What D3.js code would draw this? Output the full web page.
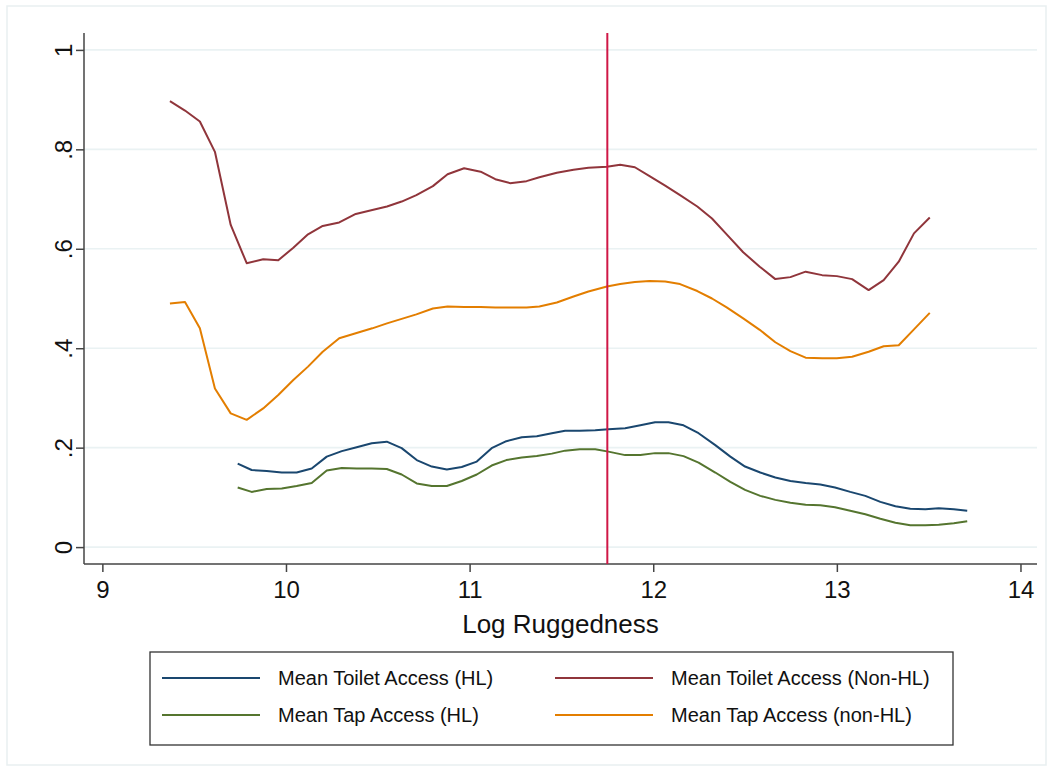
<!DOCTYPE html>
<html>
<head>
<meta charset="utf-8">
<script src="https://cdn.jsdelivr.net/npm/d3@7"></script>
<style>
  body { margin: 0; background: #fff; }
  svg { display: block; font-family: 'Liberation Sans', Arial, Helvetica, sans-serif; }
</style>
</head>
<body>
<div id="chart"></div>
<script>
// x positions of the smoothed points (HL and non-HL curves are sampled differently)
const xHL = [9.737, 9.813, 9.895, 9.977, 10.058, 10.14, 10.222, 10.304, 10.385, 10.467,
  10.549, 10.63, 10.712, 10.794, 10.876, 10.957, 11.039, 11.12, 11.20, 11.284,
  11.366, 11.448, 11.52, 11.60, 11.684, 11.756, 11.847, 11.93, 12.01, 12.083,
  12.165, 12.247, 12.338, 12.42, 12.50, 12.583, 12.665, 12.747, 12.83, 12.91,
  12.99, 13.073, 13.155, 13.237, 13.319, 13.40, 13.482, 13.555, 13.637, 13.71]
const xNonHL = [9.368, 9.45, 9.531, 9.613, 9.699, 9.786, 9.876, 9.958, 10.04, 10.12,
  10.20, 10.29, 10.38, 10.47, 10.55, 10.63, 10.71, 10.80, 10.88, 10.97,
  11.06, 11.14, 11.22, 11.31, 11.38, 11.475, 11.566, 11.647, 11.748, 11.82,
  11.90, 11.98, 12.065, 12.146, 12.24, 12.32, 12.40, 12.49, 12.58, 12.665,
  12.747, 12.83, 12.92, 13.0, 13.083, 13.173, 13.255, 13.337, 13.42, 13.506]

const toiletHL = [.168, .155, .153, .150, .150, .158, .182, .193, .201, .209,
  .212, .199, .175, .162, .156, .161, .172, .199, .213, .221,
  .223, .229, .234, .234, .235, .237, .239, .245, .251, .251,
  .245, .229, .205, .182, .162, .150, .140, .133, .129, .126,
  .120, .111, .103, .091, .082, .077, .076, .078, .076, .073]
const tapHL = [.120, .111, .117, .118, .123, .129, .154, .159, .158, .158,
  .157, .146, .128, .123, .123, .133, .146, .164, .175, .180,
  .183, .188, .194, .197, .197, .192, .185, .185, .189, .189,
  .183, .170, .150, .131, .115, .103, .095, .089, .085, .084,
  .080, .073, .066, .057, .049, .044, .044, .045, .048, .052]
const toiletNonHL = [.897, .878, .856, .795, .648, .571, .579, .577, .602, .629,
  .646, .653, .670, .678, .685, .695, .708, .726, .750, .762,
  .755, .740, .732, .736, .744, .753, .759, .763, .765, .769,
  .764, .746, .727, .708, .685, .661, .629, .593, .564, .539,
  .543, .554, .547, .545, .539, .517, .537, .574, .631, .663]
const tapNonHL = [.490, .493, .440, .319, .269, .256, .279, .306, .336, .363,
  .393, .420, .430, .440, .450, .459, .468, .480, .484, .483,
  .483, .482, .482, .482, .484, .492, .504, .514, .524, .529,
  .533, .535, .534, .529, .515, .500, .482, .460, .437, .412,
  .394, .381, .380, .380, .383, .393, .404, .406, .438, .471]

const cutoff = 11.75
const xTicks = [9, 10, 11, 12, 13, 14]
const yTicks = [0, .2, .4, .6, .8, 1]
const yTickLabels = ['0', '.2', '.4', '.6', '.8', '1']

const series = [
  { name: 'Mean Toilet Access (HL)', xs: xHL, ys: toiletHL, color: '#1a476f' },
  { name: 'Mean Toilet Access (Non-HL)', xs: xNonHL, ys: toiletNonHL, color: '#90353b' },
  { name: 'Mean Tap Access (HL)', xs: xHL, ys: tapHL, color: '#55752f' },
  { name: 'Mean Tap Access (non-HL)', xs: xNonHL, ys: tapNonHL, color: '#e37e00' }
]

const width = 1053, height = 771
const plot = { left: 84, right: 1037, top: 33, bottom: 564 }

const svg = d3.select('#chart').append('svg')
  .attr('width', width)
  .attr('height', height)

// faint outer frame
svg.append('rect')
  .attr('x', 7).attr('y', 6)
  .attr('width', 1039).attr('height', 759)
  .attr('fill', '#fff')
  .attr('stroke', '#e9eff1')
  .attr('stroke-width', 1.5)

const x = d3.scaleLinear().domain([8.9, 14.09]).range([plot.left, plot.right])
const y = d3.scaleLinear().domain([-0.034, 1.034]).range([plot.bottom, plot.top])

// grid
svg.append('g').selectAll('line')
  .data(yTicks).enter()
  .append('line')
    .attr('x1', plot.left).attr('x2', plot.right)
    .attr('y1', d => y(d)).attr('y2', d => y(d))
    .attr('stroke', '#eaf2f3')
    .attr('stroke-width', 1.6)

// y axis, labels rotated like stata
const yAxis = svg.append('g')
  .attr('transform', `translate(${plot.left},0)`)
  .call(d3.axisLeft(y).tickValues(yTicks).tickSize(8).tickFormat((d, i) => yTickLabels[i]))
yAxis.select('.domain').attr('d', `M0,${plot.top}V${plot.bottom}`).attr('stroke', '#444').attr('stroke-width', 1.5)
yAxis.selectAll('.tick line').attr('stroke', '#444').attr('stroke-width', 1.5)
yAxis.selectAll('.tick text')
  .attr('font-size', 24)
  .attr('fill', '#111')
  .attr('x', 0).attr('dy', 0)
  .attr('text-anchor', 'middle')
  .attr('transform', 'translate(-12,0) rotate(-90)')

// x axis
const xAxis = svg.append('g')
  .attr('transform', `translate(0,${plot.bottom})`)
  .call(d3.axisBottom(x).tickValues(xTicks).tickSize(8).tickFormat(d3.format('d')))
xAxis.select('.domain').attr('d', `M${plot.left},0H${plot.right}`).attr('stroke', '#444').attr('stroke-width', 1.5)
xAxis.selectAll('.tick line').attr('stroke', '#444').attr('stroke-width', 1.5)
xAxis.selectAll('.tick text')
  .attr('font-size', 24)
  .attr('fill', '#111')
  .attr('y', 17)

svg.append('text')
  .attr('x', (plot.left + plot.right) / 2)
  .attr('y', 633)
  .attr('text-anchor', 'middle')
  .attr('font-size', 26)
  .attr('fill', '#111')
  .text('Log Ruggedness')

// curves
const line = d3.line().x(d => x(d[0])).y(d => y(d[1]))
svg.append('g').selectAll('path')
  .data(series).enter()
  .append('path')
    .attr('d', s => line(s.xs.map((v, i) => [v, s.ys[i]])))
    .attr('fill', 'none')
    .attr('stroke', s => s.color)
    .attr('stroke-width', 2)
    .attr('stroke-linejoin', 'round')

// cutoff line
svg.append('line')
  .attr('x1', x(cutoff)).attr('x2', x(cutoff))
  .attr('y1', plot.top).attr('y2', plot.bottom)
  .attr('stroke', '#cf1746')
  .attr('stroke-width', 2)

// legend
const legend = svg.append('g').attr('transform', 'translate(150,652)')
legend.append('rect')
  .attr('width', 803).attr('height', 93)
  .attr('fill', '#fff')
  .attr('stroke', '#333')
  .attr('stroke-width', 1.3)
const items = legend.selectAll('g.item')
  .data(series).enter()
  .append('g')
    .attr('class', 'item')
    .attr('transform', (d, i) => `translate(${i % 2 ? 405 : 12},${i < 2 ? 26 : 63})`)
items.append('line')
  .attr('x1', 0).attr('x2', 98)
  .attr('stroke', d => d.color)
  .attr('stroke-width', 2)
items.append('text')
  .attr('x', 116).attr('dy', '0.35em')
  .attr('font-size', 20)
  .attr('fill', '#111')
  .text(d => d.name)
</script>
</body>
</html>
